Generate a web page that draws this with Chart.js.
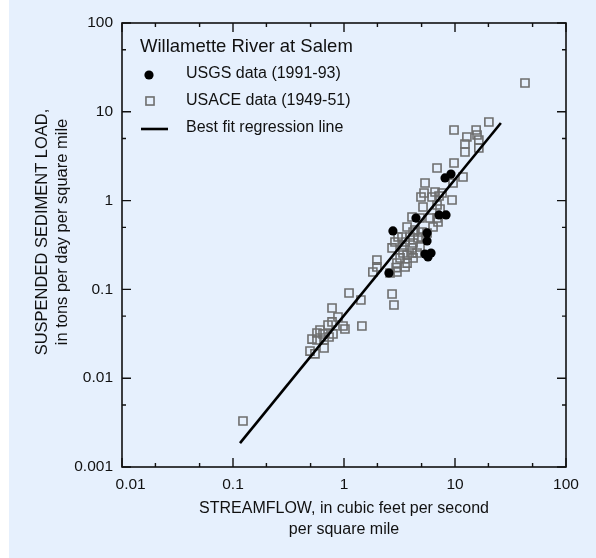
<!DOCTYPE html>
<html>
<head>
<meta charset="utf-8">
<script src="https://cdn.jsdelivr.net/npm/chart.js@4.4.1/dist/chart.umd.min.js"></script>
<style>
html,body{margin:0;padding:0;background:#fff;}
#wrap{width:596px;height:558px;}
canvas{display:block;}
</style>
</head>
<body>
<div id="wrap"><canvas id="c" width="596" height="558"></canvas></div>
<script>
// ---------- data ----------
const legendTitle = 'Willamette River at Salem';
const xTickValues = [0.01, 0.1, 1, 10, 100];
const xTickLabels = ['0.01', '0.1', '1', '10', '100'];
const yTickValues = [0.001, 0.01, 0.1, 1, 10, 100];
const yTickLabels = ['0.001', '0.01', '0.1', '1', '10', '100'];
const xTitle = ['STREAMFLOW, in cubic feet per second', 'per square mile'];
const yTitle = ['SUSPENDED SEDIMENT LOAD,', 'in tons per day per square mile'];

// USGS data (1991-93): streamflow (cfs/mi2) and load (tons/day/mi2)
const usgsFlow = [9.2, 8.13, 2.76, 4.45, 7.18, 8.30, 5.60, 5.60, 5.37, 6.08, 5.71, 2.54];
const usgsLoad = [1.99, 1.80, 0.455, 0.637, 0.689, 0.689, 0.432, 0.351, 0.250, 0.257, 0.232, 0.153];

// USACE data (1949-51)
const usaceFlow = [0.123, 0.494, 0.548, 0.661, 0.515, 0.571, 0.661, 0.733, 0.608, 0.571,
  0.647, 0.796, 0.718, 0.780, 0.883, 0.780, 0.98, 1.02, 1.45, 1.11,
  1.42, 2.71, 2.82, 1.82, 1.98, 1.98, 2.60, 3.0, 3.0, 2.95,
  3.70, 3.55, 3.2, 4.19, 3.70, 4.55, 4.10, 3.40, 2.71, 3.33,
  4.10, 4.84, 2.88, 3.55, 4.19, 3.33, 3.93, 4.64, 5.04, 3.70,
  4.36, 5.04, 5.60, 6.34, 4.10, 4.84, 5.95, 6.89, 7.03, 5.15,
  6.89, 7.33, 9.40, 4.94, 5.26, 6.21, 6.61, 7.18, 7.64, 5.37,
  6.89, 9.60, 11.8, 9.80, 12.3, 12.3, 16.4, 16.4, 12.8, 15.5,
  15.8, 9.80, 20.2, 42.7, 4.19, 3.07];
const usaceLoad = [0.0033, 0.0202, 0.0188, 0.0219, 0.0276, 0.0269, 0.0269, 0.0291, 0.0349, 0.0323,
  0.0315, 0.0315, 0.0397, 0.0430, 0.0489, 0.0618, 0.0387, 0.0358, 0.0387, 0.091,
  0.076, 0.0888, 0.0667, 0.157, 0.179, 0.214, 0.153, 0.157, 0.198, 0.176,
  0.198, 0.179, 0.226, 0.226, 0.244, 0.257, 0.257, 0.257, 0.293, 0.300,
  0.293, 0.300, 0.342, 0.342, 0.333, 0.389, 0.389, 0.379, 0.389, 0.504,
  0.467, 0.443, 0.432, 0.504, 0.654, 0.637, 0.637, 0.637, 0.574, 0.847,
  0.892, 0.804, 1.016, 1.098, 1.218, 1.098, 1.25, 1.127, 1.218, 1.578,
  2.33, 1.578, 1.845, 2.65, 3.53, 4.34, 3.91, 4.81, 5.20, 6.24,
  5.48, 6.24, 7.67, 21.1, 0.443, 0.389];

// Best fit regression line end points
const fitFlow = [0.1156, 25.9];
const fitLoad = [0.00186, 7.48];

// ---------- styling ----------
const FONT = "'Liberation Sans', Arial, Helvetica, sans-serif";
const TEXT = '#111';
const BG = '#E6F0FD';

const toPts = (xs, ys) => xs.map((x, i) => ({x: x, y: ys[i]}));

const bgPlugin = {
  id: 'bg',
  beforeDraw(chart) {
    const c = chart.ctx;
    c.save();
    c.fillStyle = '#fff';
    c.fillRect(0, 0, chart.width, chart.height);
    c.fillStyle = BG;
    c.fillRect(9, 0, chart.width - 9, chart.height);
    c.restore();
  }
};

const framePlugin = {
  id: 'frame',
  beforeDatasetsDraw(chart) {
    const c = chart.ctx, a = chart.chartArea, xs = chart.scales.x, ys = chart.scales.y;
    c.save();
    c.strokeStyle = TEXT;
    c.lineWidth = 1.6;
    c.strokeRect(a.left, a.top, a.right - a.left, a.bottom - a.top);
    c.lineWidth = 1.4;
    c.beginPath();
    const major = 9, minor = 4;
    xTickValues.forEach(v => {
      const p = xs.getPixelForValue(v);
      c.moveTo(p, a.bottom); c.lineTo(p, a.bottom - major);
      c.moveTo(p, a.top); c.lineTo(p, a.top + major);
    });
    yTickValues.forEach(v => {
      const p = ys.getPixelForValue(v);
      c.moveTo(a.left, p); c.lineTo(a.left + major, p);
      c.moveTo(a.right, p); c.lineTo(a.right - major, p);
    });
    xTickValues.slice(0, -1).forEach(v => {
      [2, 5].forEach(m => {
        const p = xs.getPixelForValue(v * m);
        c.moveTo(p, a.bottom); c.lineTo(p, a.bottom - minor);
        c.moveTo(p, a.top); c.lineTo(p, a.top + minor);
      });
    });
    yTickValues.slice(0, -1).forEach(v => {
      [5].forEach(m => {
        const p = ys.getPixelForValue(v * m);
        c.moveTo(a.left, p); c.lineTo(a.left + minor, p);
        c.moveTo(a.right, p); c.lineTo(a.right - minor, p);
      });
    });
    c.stroke();
    c.restore();
  }
};

const yTitlePlugin = {
  id: 'yTitle',
  afterDraw(chart) {
    const c = chart.ctx;
    c.save();
    c.fillStyle = TEXT;
    c.font = '16.5px ' + FONT;
    c.textAlign = 'center';
    c.textBaseline = 'middle';
    c.translate(42, 232);
    c.rotate(-Math.PI / 2);
    c.fillText(yTitle[0], 0, 0);
    c.fillText(yTitle[1], 0, 20);
    c.restore();
  }
};

const legendPlugin = {
  id: 'customLegend',
  afterDraw(chart) {
    const c = chart.ctx;
    const ds = chart.data.datasets;
    c.save();
    c.fillStyle = TEXT;
    c.textBaseline = 'middle';
    c.textAlign = 'left';
    c.font = '18.5px ' + FONT;
    c.fillText(legendTitle, 140, 47);
    c.font = '16px ' + FONT;
    // circle
    c.beginPath();
    c.arc(149, 75, ds[0].pointRadius, 0, Math.PI * 2);
    c.fillStyle = ds[0].backgroundColor;
    c.fill();
    c.fillStyle = TEXT;
    c.fillText(ds[0].label, 186, 74);
    // square
    const s = Math.SQRT1_2 * ds[1].pointRadius;
    c.strokeStyle = ds[1].borderColor;
    c.lineWidth = ds[1].borderWidth;
    c.strokeRect(150 - s, 101 - s, 2 * s, 2 * s);
    c.fillText(ds[1].label, 186, 101);
    // line
    c.strokeStyle = ds[2].borderColor;
    c.lineWidth = ds[2].borderWidth;
    c.beginPath();
    c.moveTo(141, 129); c.lineTo(168, 129);
    c.stroke();
    c.fillText(ds[2].label, 186, 128);
    c.restore();
  }
};

new Chart(document.getElementById('c'), {
  type: 'scatter',
  data: {
    datasets: [
      {
        label: 'USGS data (1991-93)',
        data: toPts(usgsFlow, usgsLoad),
        pointStyle: 'circle', pointRadius: 4.6,
        backgroundColor: '#000', borderColor: '#000', borderWidth: 0,
        order: 1
      },
      {
        label: 'USACE data (1949-51)',
        data: toPts(usaceFlow, usaceLoad),
        pointStyle: 'rect', pointRadius: 5.7,
        backgroundColor: 'rgba(0,0,0,0)', borderColor: '#6e6e6e', borderWidth: 1.6,
        order: 2
      },
      {
        label: 'Best fit regression line',
        type: 'line',
        data: toPts(fitFlow, fitLoad),
        borderColor: '#000', borderWidth: 2.6, pointRadius: 0,
        fill: false, showLine: true, tension: 0,
        order: 0
      }
    ]
  },
  options: {
    responsive: false,
    animation: false,
    events: [],
    layout: {padding: {left: 0, top: 23, right: 30, bottom: 0}},
    plugins: {legend: {display: false}, tooltip: {enabled: false}},
    scales: {
      x: {
        type: 'logarithmic', position: 'bottom', min: 0.01, max: 100,
        afterBuildTicks: s => { s.ticks = xTickValues.map(v => ({value: v})); },
        afterFit: s => { s.height = 91; },
        ticks: {
          callback: (v, i) => (i === 0 ? '    ' : '') + xTickLabels[i],
          font: {family: FONT, size: 15.5}, color: TEXT, padding: 8,
          maxRotation: 0, minRotation: 0, autoSkip: false
        },
        grid: {display: false, drawTicks: false},
        border: {display: false},
        title: {
          display: true, text: xTitle, color: TEXT,
          font: {family: FONT, size: 16, lineHeight: 1.3125},
          padding: {top: 0, bottom: 17.5}
        }
      },
      y: {
        type: 'logarithmic', position: 'left', min: 0.001, max: 100,
        afterBuildTicks: s => { s.ticks = yTickValues.map(v => ({value: v})); },
        afterFit: s => { s.width = 122; },
        ticks: {
          callback: (v, i) => yTickLabels[i],
          font: {family: FONT, size: 15.5}, color: TEXT, padding: 9,
          autoSkip: false
        },
        grid: {display: false, drawTicks: false},
        border: {display: false},
        title: {display: false, text: yTitle}
      }
    }
  },
  plugins: [bgPlugin, framePlugin, yTitlePlugin, legendPlugin]
});
</script>
</body>
</html>
